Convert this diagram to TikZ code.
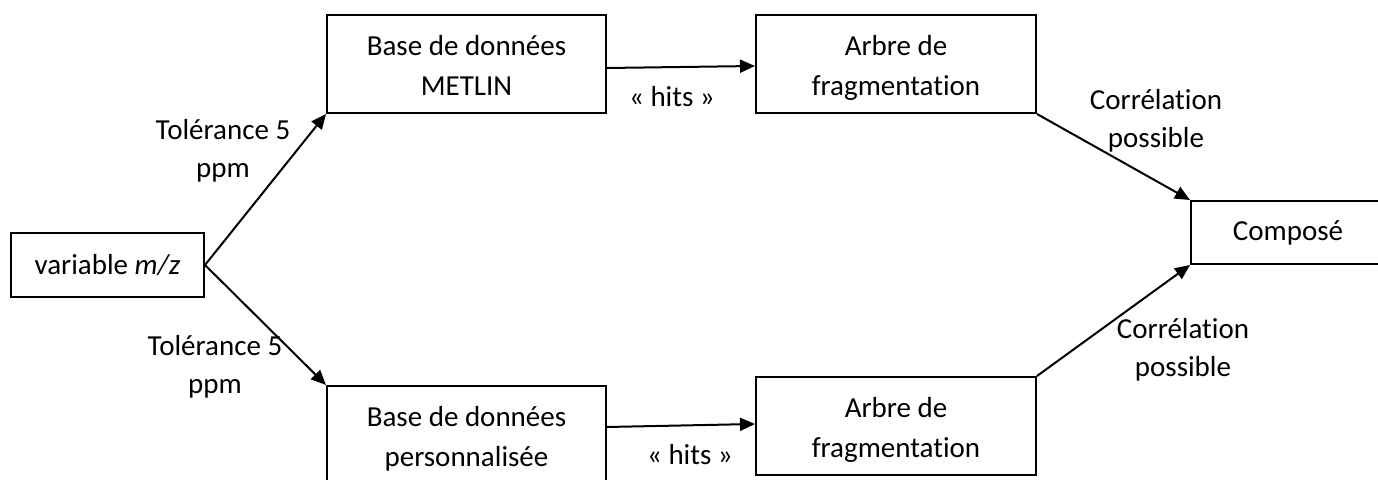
\documentclass[tikz,border=0pt]{standalone}
\usepackage{fontspec}
\setmainfont[Ligatures={NoCommon,NoContextual}]{Carlito}
\usetikzlibrary{arrows.meta,positioning,calc}
\newcommand{\hautligne}{\rule{0pt}{18pt}}

\begin{document}
\begin{tikzpicture}[x=0.5pt,y=-0.5pt,
    boite/.style={draw,line width=1pt,align=center,inner sep=0pt,
                  font=\fontsize{14.5}{20}\selectfont},
    fleche/.style={-{Triangle[length=7.5pt,width=6.5pt]},line width=1pt},
    etiq/.style={align=center,font=\fontsize{14.5}{19}\selectfont}]
  \useasboundingbox (0,0) rectangle (1378,480);

  % Boites
  \node[boite,minimum width=96.5pt,minimum height=32pt] (var) at (107.5,265)
       {variable \textit{m/z}};
  \node[boite,minimum width=139.5pt,minimum height=49pt] (metlin) at (466.5,64)
       {\hautligne Base de données\\\strut METLIN};
  \node[boite,minimum width=139.5pt,minimum height=49pt] (perso) at (466.5,435)
       {\hautligne Base de données\\\strut personnalisée};
  \node[boite,minimum width=140pt,minimum height=49pt] (arbreH) at (896,64)
       {\hautligne Arbre de\\\strut fragmentation};
  \node[boite,minimum width=140pt,minimum height=49pt] (arbreB) at (896,426)
       {\hautligne Arbre de\\\strut fragmentation};
  \node[boite,minimum width=97pt,minimum height=31.5pt] (compose) at (1288,232.5)
       {Composé};

  % Fleches
  \draw[fleche] (var.east) -- (metlin.south west);
  \draw[fleche] (var.east) -- (perso.north west);
  \draw[fleche] ($(metlin.east)+(0,4)$) -- ($(arbreH.west)+(0,2)$);
  \draw[fleche] ($(perso.east)+(0,-8)$) -- ($(arbreB.west)+(0,-2)$);
  \draw[fleche] (arbreH.south east) -- (compose.north west);
  \draw[fleche] (arbreB.north east) -- (compose.south west);

  % Etiquettes
  \node[etiq] (tolH) at (223,151) {Tolérance 5\\ppm};
  \node[etiq] (tolB) at (215,367) {Tolérance 5\\ppm};
  \node[etiq] (hitsH) at (672,97) {« hits »};
  \node[etiq] (hitsB) at (690,455) {« hits »};
  \node[etiq] (corH) at (1156,121) {Corrélation\\possible};
  \node[etiq] (corB) at (1183,350) {Corrélation\\possible};
\end{tikzpicture}
\end{document}
